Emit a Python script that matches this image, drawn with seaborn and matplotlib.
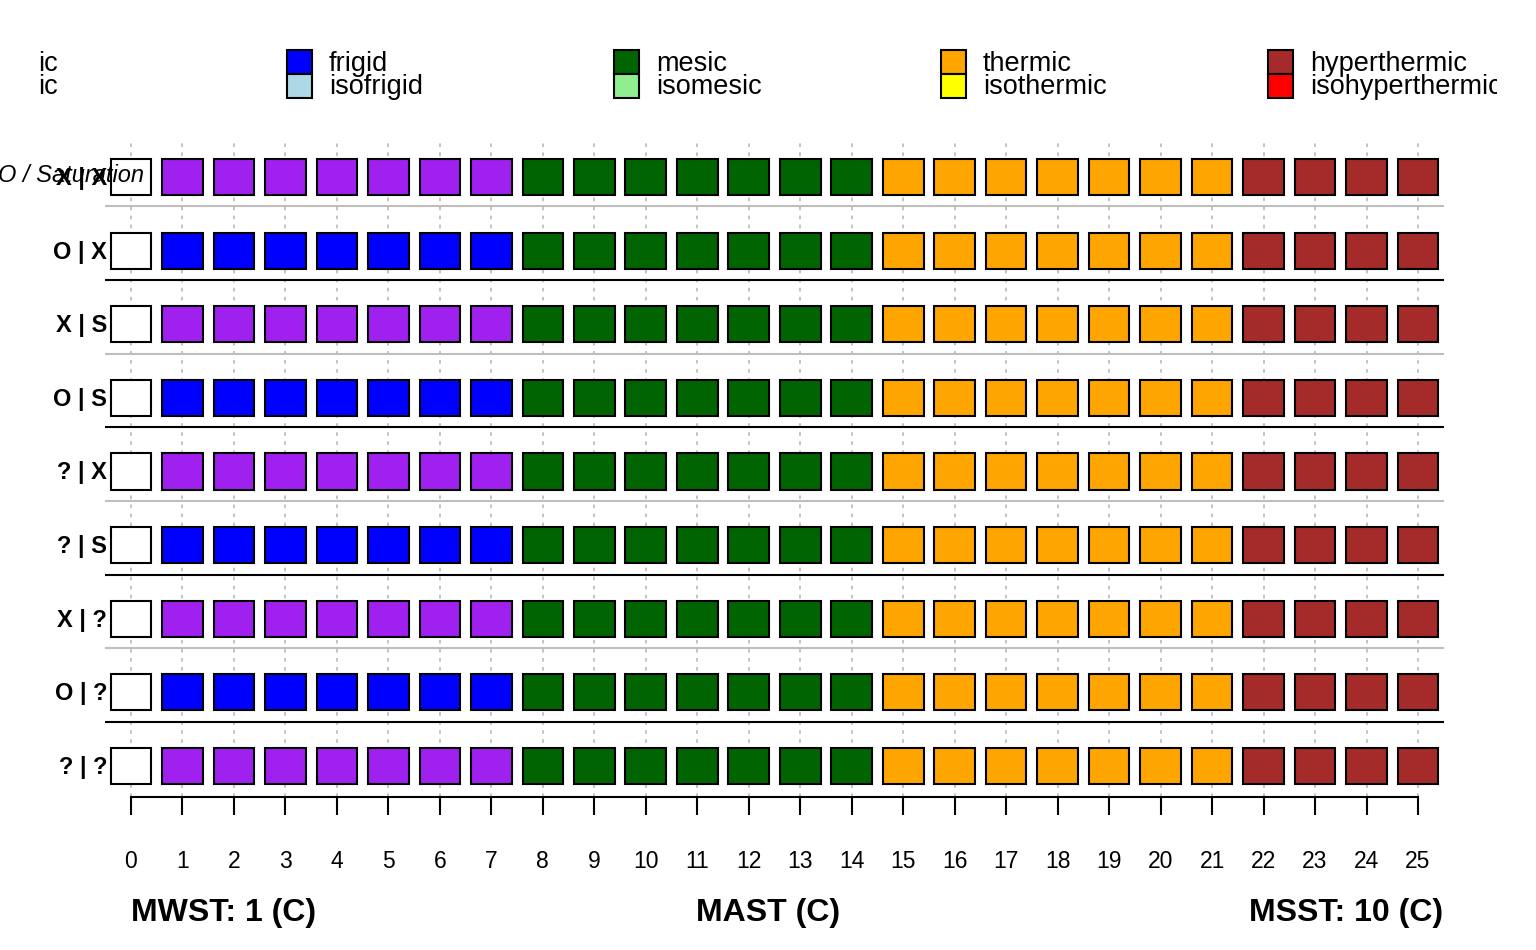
import matplotlib
matplotlib.use("Agg")
import matplotlib.pyplot as plt
import seaborn as sns
import pandas as pd
from matplotlib.patches import Rectangle

sns.set_theme(style="white")
plt.rcParams['font.family'] = ['Liberation Sans', 'DejaVu Sans']
plt.rcParams['text.color'] = 'black'
plt.rcParams['xtick.labelcolor'] = 'black'

# rows of the grid: moisture / saturation combos, top to bottom
row_labels = ['X | X', 'O | X', 'X | S', 'O | S', '? | X', '? | S', 'X | ?', 'O | ?', '? | ?']
# class used for the cold columns (1..7) in each row
cold_regime = ['cryic', 'frigid', 'cryic', 'frigid', 'cryic', 'frigid', 'cryic', 'frigid', 'cryic']
# separator below each row (last row has none)
sep_color = ['#BEBEBE', 'black', '#BEBEBE', 'black', '#BEBEBE', 'black', '#BEBEBE', 'black']

mast = [0, 1, 2, 3, 4, 5, 6, 7, 8, 9, 10, 11, 12, 13, 14, 15, 16, 17, 18, 19, 20, 21, 22, 23, 24, 25]
regime_by_mast = ['gelic',
                  'cold', 'cold', 'cold', 'cold', 'cold', 'cold', 'cold',
                  'mesic', 'mesic', 'mesic', 'mesic', 'mesic', 'mesic', 'mesic',
                  'thermic', 'thermic', 'thermic', 'thermic', 'thermic', 'thermic', 'thermic',
                  'hyperthermic', 'hyperthermic', 'hyperthermic', 'hyperthermic']

regime_colors = {
    'gelic': 'white', 'cryic': '#A020F0',
    'frigid': '#0000FF', 'isofrigid': '#ADD8E6',
    'mesic': '#006400', 'isomesic': '#90EE90',
    'thermic': '#FFA500', 'isothermic': '#FFFF00',
    'hyperthermic': '#A52A2A', 'isohyperthermic': '#FF0000',
}

legend_top = ['ic', 'frigid', 'mesic', 'thermic', 'hyperthermic']
legend_bottom = ['ic', 'isofrigid', 'isomesic', 'isothermic', 'isohyperthermic']

# long table of cells
recs = []
for i, lab in enumerate(row_labels):
    for t, r in zip(mast, regime_by_mast):
        reg = cold_regime[i] if r == 'cold' else r
        recs.append({'row': i, 'label': lab, 'mast': t, 'regime': reg})
df = pd.DataFrame(recs)
df['color'] = df['regime'].map(regime_colors)

W, H = 1536, 950
fig = plt.figure(figsize=(W / 100, H / 100), dpi=100)
ax = fig.add_axes([105 / W, 1 - 797 / H, (1444 - 105) / W, (797 - 142) / H])

ax.bar(df['mast'], 0.49, bottom=df['row'] - 0.245, width=0.79,
       color=df['color'], edgecolor='black', linewidth=1.5, zorder=3)

for i, c in enumerate(sep_color):
    ax.axhline(i + 0.4, color=c, lw=1.5, zorder=2)

ax.set_xlim(-0.505, 25.505)
ax.set_ylim(8.42, -0.475)
ax.set_xticks(mast)
ax.set_xticklabels([str(m) for m in mast], fontsize=16.5)
ax.set_yticks([])
ax.grid(axis='x', color='#BEBEBE', linestyle=(0, (2, 3)), lw=1.3, zorder=1)
ax.set_axisbelow(True)
for s in ['top', 'right', 'left']:
    ax.spines[s].set_visible(False)
ax.spines['bottom'].set_bounds(0, 25)
ax.spines['bottom'].set_linewidth(1.5)
ax.spines['bottom'].set_color('black')
ax.tick_params(axis='x', direction='out', length=13, width=1.5, color='black',
               pad=25, bottom=True)

for i, lab in enumerate(row_labels):
    ax.text(0.0015, i + 0.02, lab, transform=ax.get_yaxis_transform(), ha='right',
            va='center', fontsize=17, fontweight='bold')

fig.text(144 / W, 1 - 176 / H, 'O / Saturation', ha='right', va='center',
         fontsize=17, style='italic')

fig.text(131 / W, 1 - 913 / H, 'MWST: 1 (C)', ha='left', va='center', fontsize=23, fontweight='bold')
fig.text(768 / W, 1 - 913 / H, 'MAST (C)', ha='center', va='center', fontsize=23, fontweight='bold')
fig.text(1443 / W, 1 - 913 / H, 'MSST: 10 (C)', ha='right', va='center', fontsize=23, fontweight='bold')

# legend strip, clipped on the right like the original device
lax = fig.add_axes([0, 1 - 110 / H, 1497 / W, 70 / H])
lax.set_xlim(0, 1497)
lax.set_ylim(110, 40)
lax.axis('off')
box_x = [None, 287, 614, 941, 1268]
text_x = [38, 329, 656, 983, 1310]
for k in range(5):
    if box_x[k] is not None:
        lax.add_patch(Rectangle((box_x[k], 50), 25, 24, facecolor=regime_colors[legend_top[k]],
                                edgecolor='black', lw=1.5))
        lax.add_patch(Rectangle((box_x[k], 74), 25, 24, facecolor=regime_colors[legend_bottom[k]],
                                edgecolor='black', lw=1.5))
    lax.text(text_x[k], 71, legend_top[k], fontsize=19.5, va='baseline', clip_on=True)
    lax.text(text_x[k], 94, legend_bottom[k], fontsize=19.5, va='baseline', clip_on=True)

fig.savefig('out.png', dpi=100)
